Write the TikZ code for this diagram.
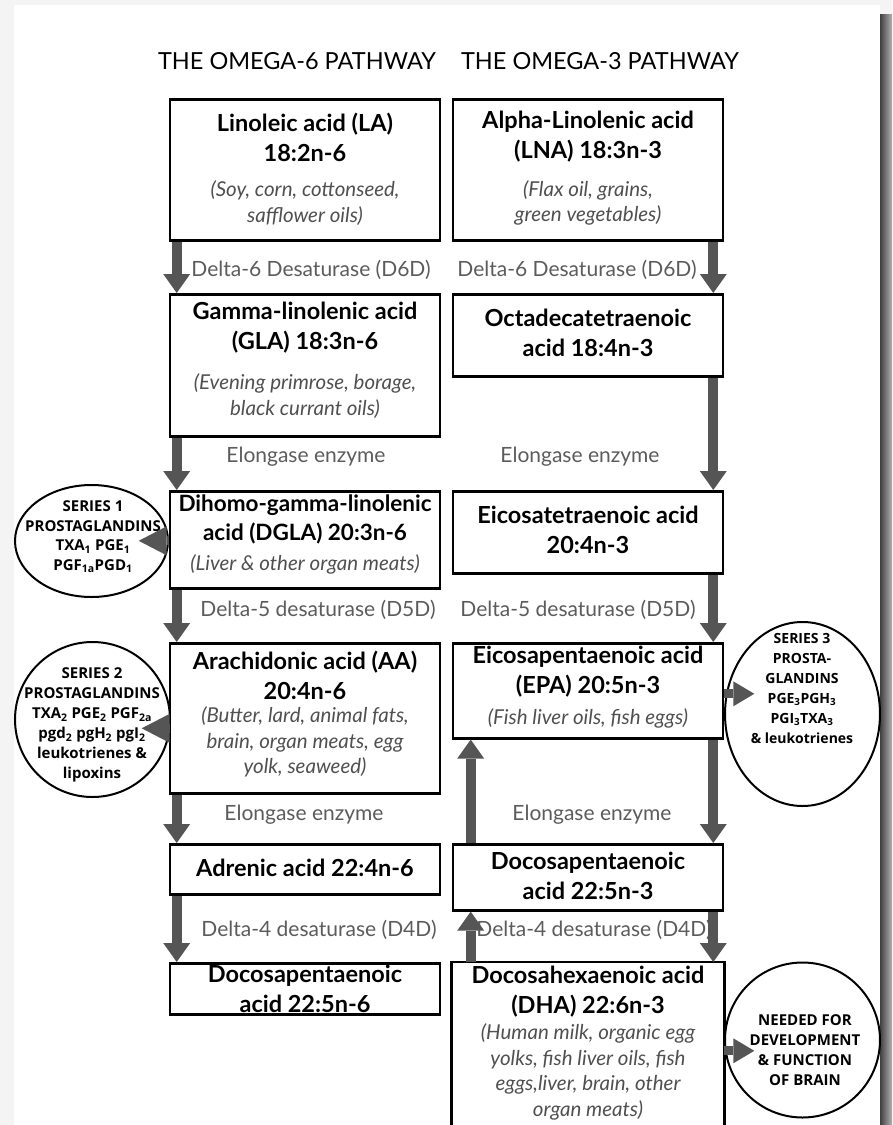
\documentclass[tikz,border=0pt]{standalone}
\usepackage{fontspec}
\setmainfont{Lato}
\newfontfamily\ovalfont{Open Sans}
\usetikzlibrary{arrows.meta,shapes.geometric}
\definecolor{arrgray}{HTML}{555555}
\definecolor{labgray}{HTML}{5C5C5C}
\definecolor{srcgray}{HTML}{505050}
\definecolor{outgray}{HTML}{F4F4F4}
\begin{document}
\begin{tikzpicture}[x=1pt,y=-1pt,
  acidbox/.style={draw, line width=2.6pt, minimum width=270pt, inner sep=0pt, anchor=north},
  boxtxt/.style={align=center, inner sep=0pt, font=\bfseries\fontsize{23.5}{30}\selectfont},
  srctxt/.style={align=center, inner sep=0pt, text=srcgray, font=\itshape\fontsize{20.5}{25.5}\selectfont},
  enz/.style={inner sep=0pt, text=labgray, font=\fontsize{21}{24}\selectfont},
  fat/.style={draw=arrgray, line width=10pt, -{Triangle[width=27pt,length=19pt,line width=0pt]}},
  side/.style={draw=arrgray, line width=9pt, -{Triangle[width=29pt,length=28pt,line width=0pt]}},
  sideout/.style={draw=arrgray, line width=9pt, -{Triangle[width=25pt,length=21pt,line width=0pt]}},
  oval/.style={draw, ellipse, line width=2pt, inner sep=0pt},
  ovaltxt/.style={align=center, inner sep=0pt, font=\ovalfont\bfseries\fontsize{14}{20}\selectfont},
  heading/.style={inner sep=0pt, font=\fontsize{23.5}{26}\selectfont}
]
\useasboundingbox (0,0) rectangle (892,1125);
\fill[outgray] (0,0) rectangle (892,1125);
\shade[left color=black!75, right color=black!30] (880,14) rectangle (892,1125);
\fill[white] (14,5) rectangle (880,1125);

% headings
\node[heading] (h6) at (297,61) {THE OMEGA-6 PATHWAY};
\node[heading] (h3) at (600,61) {THE OMEGA-3 PATHWAY};

% boxes omega-6
\node[acidbox, minimum height=141pt] (la) at (305,98) {};
\node[acidbox, minimum height=142pt] (gla) at (305,293) {};
\node[acidbox, minimum height=97pt] (dgla) at (305,490) {};
\node[acidbox, minimum height=150pt] (aa) at (305,642) {};
\node[acidbox, minimum height=50pt] (adr) at (305,843) {};
\node[acidbox, minimum height=51pt] (dpa6) at (305,962) {};
% boxes omega-3
\node[acidbox, minimum height=141pt] (lna) at (588,98) {};
\node[acidbox, minimum height=82pt] (octa) at (588,293) {};
\node[acidbox, minimum height=82pt] (eta) at (588,490) {};
\node[acidbox, minimum height=95pt] (epa) at (588,642) {};
\node[acidbox, minimum height=66pt] (dpa3) at (588,843) {};
\node[acidbox, draw=none, minimum height=163pt] (dha) at (588,962) {};
\draw[line width=2.6pt] (dha.south west) -- (dha.north west) -- (dha.north east) -- (dha.south east);

% box texts
\node[boxtxt] (la-t) at (305,137) {Linoleic acid (LA)\\18:2n-6};
\node[srctxt] (la-s) at (305,203) {(Soy, corn, cottonseed,\\safflower oils)};
\node[boxtxt] (lna-t) at (588,137) {Alpha-Linolenic acid\\(LNA) 18:3n-3};
\node[srctxt] (lna-s) at (588,203) {(Flax oil, grains,\\green vegetables)};
\node[boxtxt] (gla-t) at (305,328) {Gamma-linolenic acid\\(GLA) 18:3n-6};
\node[srctxt] (gla-s) at (305,396) {(Evening primrose, borage,\\black currant oils)};
\node[boxtxt] (octa-t) at (588,333) {Octadecatetraenoic\\acid 18:4n-3};
\node[boxtxt, font=\bfseries\fontsize{22.5}{29}\selectfont] (dgla-t) at (305,519) {Dihomo-gamma-linolenic\\acid (DGLA) 20:3n-6};
\node[srctxt] (dgla-s) at (305,564) {(Liver \& other organ meats)};
\node[boxtxt] (eta-t) at (588,530) {Eicosatetraenoic acid\\20:4n-3};
\node[boxtxt] (aa-t) at (305,675) {Arachidonic acid (AA)\\20:4n-6};
\node[srctxt] (aa-s) at (305,742) {(Butter, lard, animal fats,\\brain, organ meats, egg\\yolk, seaweed)};
\node[boxtxt] (epa-t) at (588,672) {Eicosapentaenoic acid\\(EPA) 20:5n-3};
\node[srctxt] (epa-s) at (588,718) {(Fish liver oils, fish eggs)};
\node[boxtxt] (adr-t) at (305,868) {Adrenic acid 22:4n-6};
\node[boxtxt] (dpa3-t) at (588,876) {Docosapentaenoic\\acid 22:5n-3};
\node[boxtxt] (dpa6-t) at (305,989) {Docosapentaenoic\\acid 22:5n-6};
\node[boxtxt] (dha-t) at (588,992) {Docosahexaenoic acid\\(DHA) 22:6n-3};
\node[srctxt] (dha-s) at (588,1072) {(Human milk, organic egg\\yolks, fish liver oils, fish\\eggs,liver, brain, other\\organ meats)};

% enzyme labels
\node[enz] (e1l) at (311,270) {Delta-6 Desaturase (D6D)};
\node[enz] (e1r) at (577,270) {Delta-6 Desaturase (D6D)};
\node[enz] (e2l) at (306,457) {Elongase enzyme};
\node[enz] (e2r) at (580,457) {Elongase enzyme};
\node[enz] (e3l) at (318,610) {Delta-5 desaturase (D5D)};
\node[enz] (e3r) at (578,610) {Delta-5 desaturase (D5D)};
\node[enz] (e4l) at (304,815) {Elongase enzyme};
\node[enz] (e4r) at (592,815) {Elongase enzyme};
\node[enz] (e5l) at (319,930) {Delta-4 desaturase (D4D)};
\node[enz] (e5r) at (594,930) {Delta-4 desaturase (D4D)};

% ellipses
\node[oval, minimum width=153pt, minimum height=112pt] (s1) at (91.5,541) {};
\node[ovaltxt, font=\ovalfont\bfseries\fontsize{15}{19.5}\selectfont] (s1-t) at (93,537) {SERIES 1\\PROSTAGLANDINS\\TXA\textsubscript{1} PGE\textsubscript{1}\\PGF\textsubscript{1a}PGD\textsubscript{1}};
\node[oval, minimum width=155pt, minimum height=155pt] (s2) at (92.5,719.5) {};
\node[ovaltxt, font=\ovalfont\bfseries\fontsize{15}{20}\selectfont] (s2-t) at (92,725) {SERIES 2\\PROSTAGLANDINS\\TXA\textsubscript{2} PGE\textsubscript{2} PGF\textsubscript{2a}\\pgd\textsubscript{2} pgH\textsubscript{2} pgI\textsubscript{2}\\leukotrienes \&\\lipoxins};
\node[oval, minimum width=155pt, minimum height=184pt] (s3) at (802.5,714) {};
\node[ovaltxt] (s3-t) at (802,688) {SERIES 3\\PROSTA-\\GLANDINS\\PGE\textsubscript{3}PGH\textsubscript{3}\\PGI\textsubscript{3}TXA\textsubscript{3}\\\& leukotrienes};
\node[oval, minimum width=155pt, minimum height=155pt] (br) at (802.5,1040) {};
\node[ovaltxt, font=\ovalfont\bfseries\fontsize{15}{20}\selectfont] (br-t) at (805,1050) {NEEDED FOR\\DEVELOPMENT\\\& FUNCTION\\OF BRAIN};

% vertical arrows omega-6
\draw[fat] ([xshift=8pt]la.south west) -- ([xshift=8pt]gla.north west);
\draw[fat] ([xshift=8pt]gla.south west) -- ([xshift=8pt]dgla.north west);
\draw[fat] ([xshift=8pt]dgla.south west) -- ([xshift=8pt]aa.north west);
\draw[fat] ([xshift=8pt]aa.south west) -- ([xshift=8pt]adr.north west);
\draw[fat] ([xshift=8pt]adr.south west) -- ([xshift=8pt]dpa6.north west);
% vertical arrows omega-3
\draw[fat] ([xshift=-11pt]lna.south east) -- ([xshift=-11pt]octa.north east);
\draw[fat] ([xshift=-11pt]octa.south east) -- ([xshift=-11pt]eta.north east);
\draw[fat] ([xshift=-11pt]eta.south east) -- ([xshift=-11pt]epa.north east);
\draw[fat] ([xshift=-11pt]epa.south east) -- ([xshift=-11pt]dpa3.north east);
\draw[fat] ([xshift=-11pt]dpa3.south east) -- ([xshift=-11pt]dha.north east);
% upward arrows
\draw[fat] ([xshift=19pt]dpa3.north west) -- ([xshift=19pt]epa.south west);
\draw[fat] ([xshift=19pt]dha.north west) -- ([xshift=19pt]dpa3.south west);
% side arrows
\draw[side] ([yshift=-1pt]dgla.west) -- ([xshift=-30pt,yshift=-1pt]dgla.west);
\draw[side] ([yshift=-10pt]aa.west) -- ([xshift=-27pt,yshift=-10pt]aa.west);
\draw[sideout] ([yshift=-3pt]epa.east) -- ([xshift=30pt,yshift=-3pt]epa.east);
\draw[sideout] ([yshift=-6pt]dha.east) -- ([xshift=30pt,yshift=-6pt]dha.east);
\end{tikzpicture}
\end{document}
